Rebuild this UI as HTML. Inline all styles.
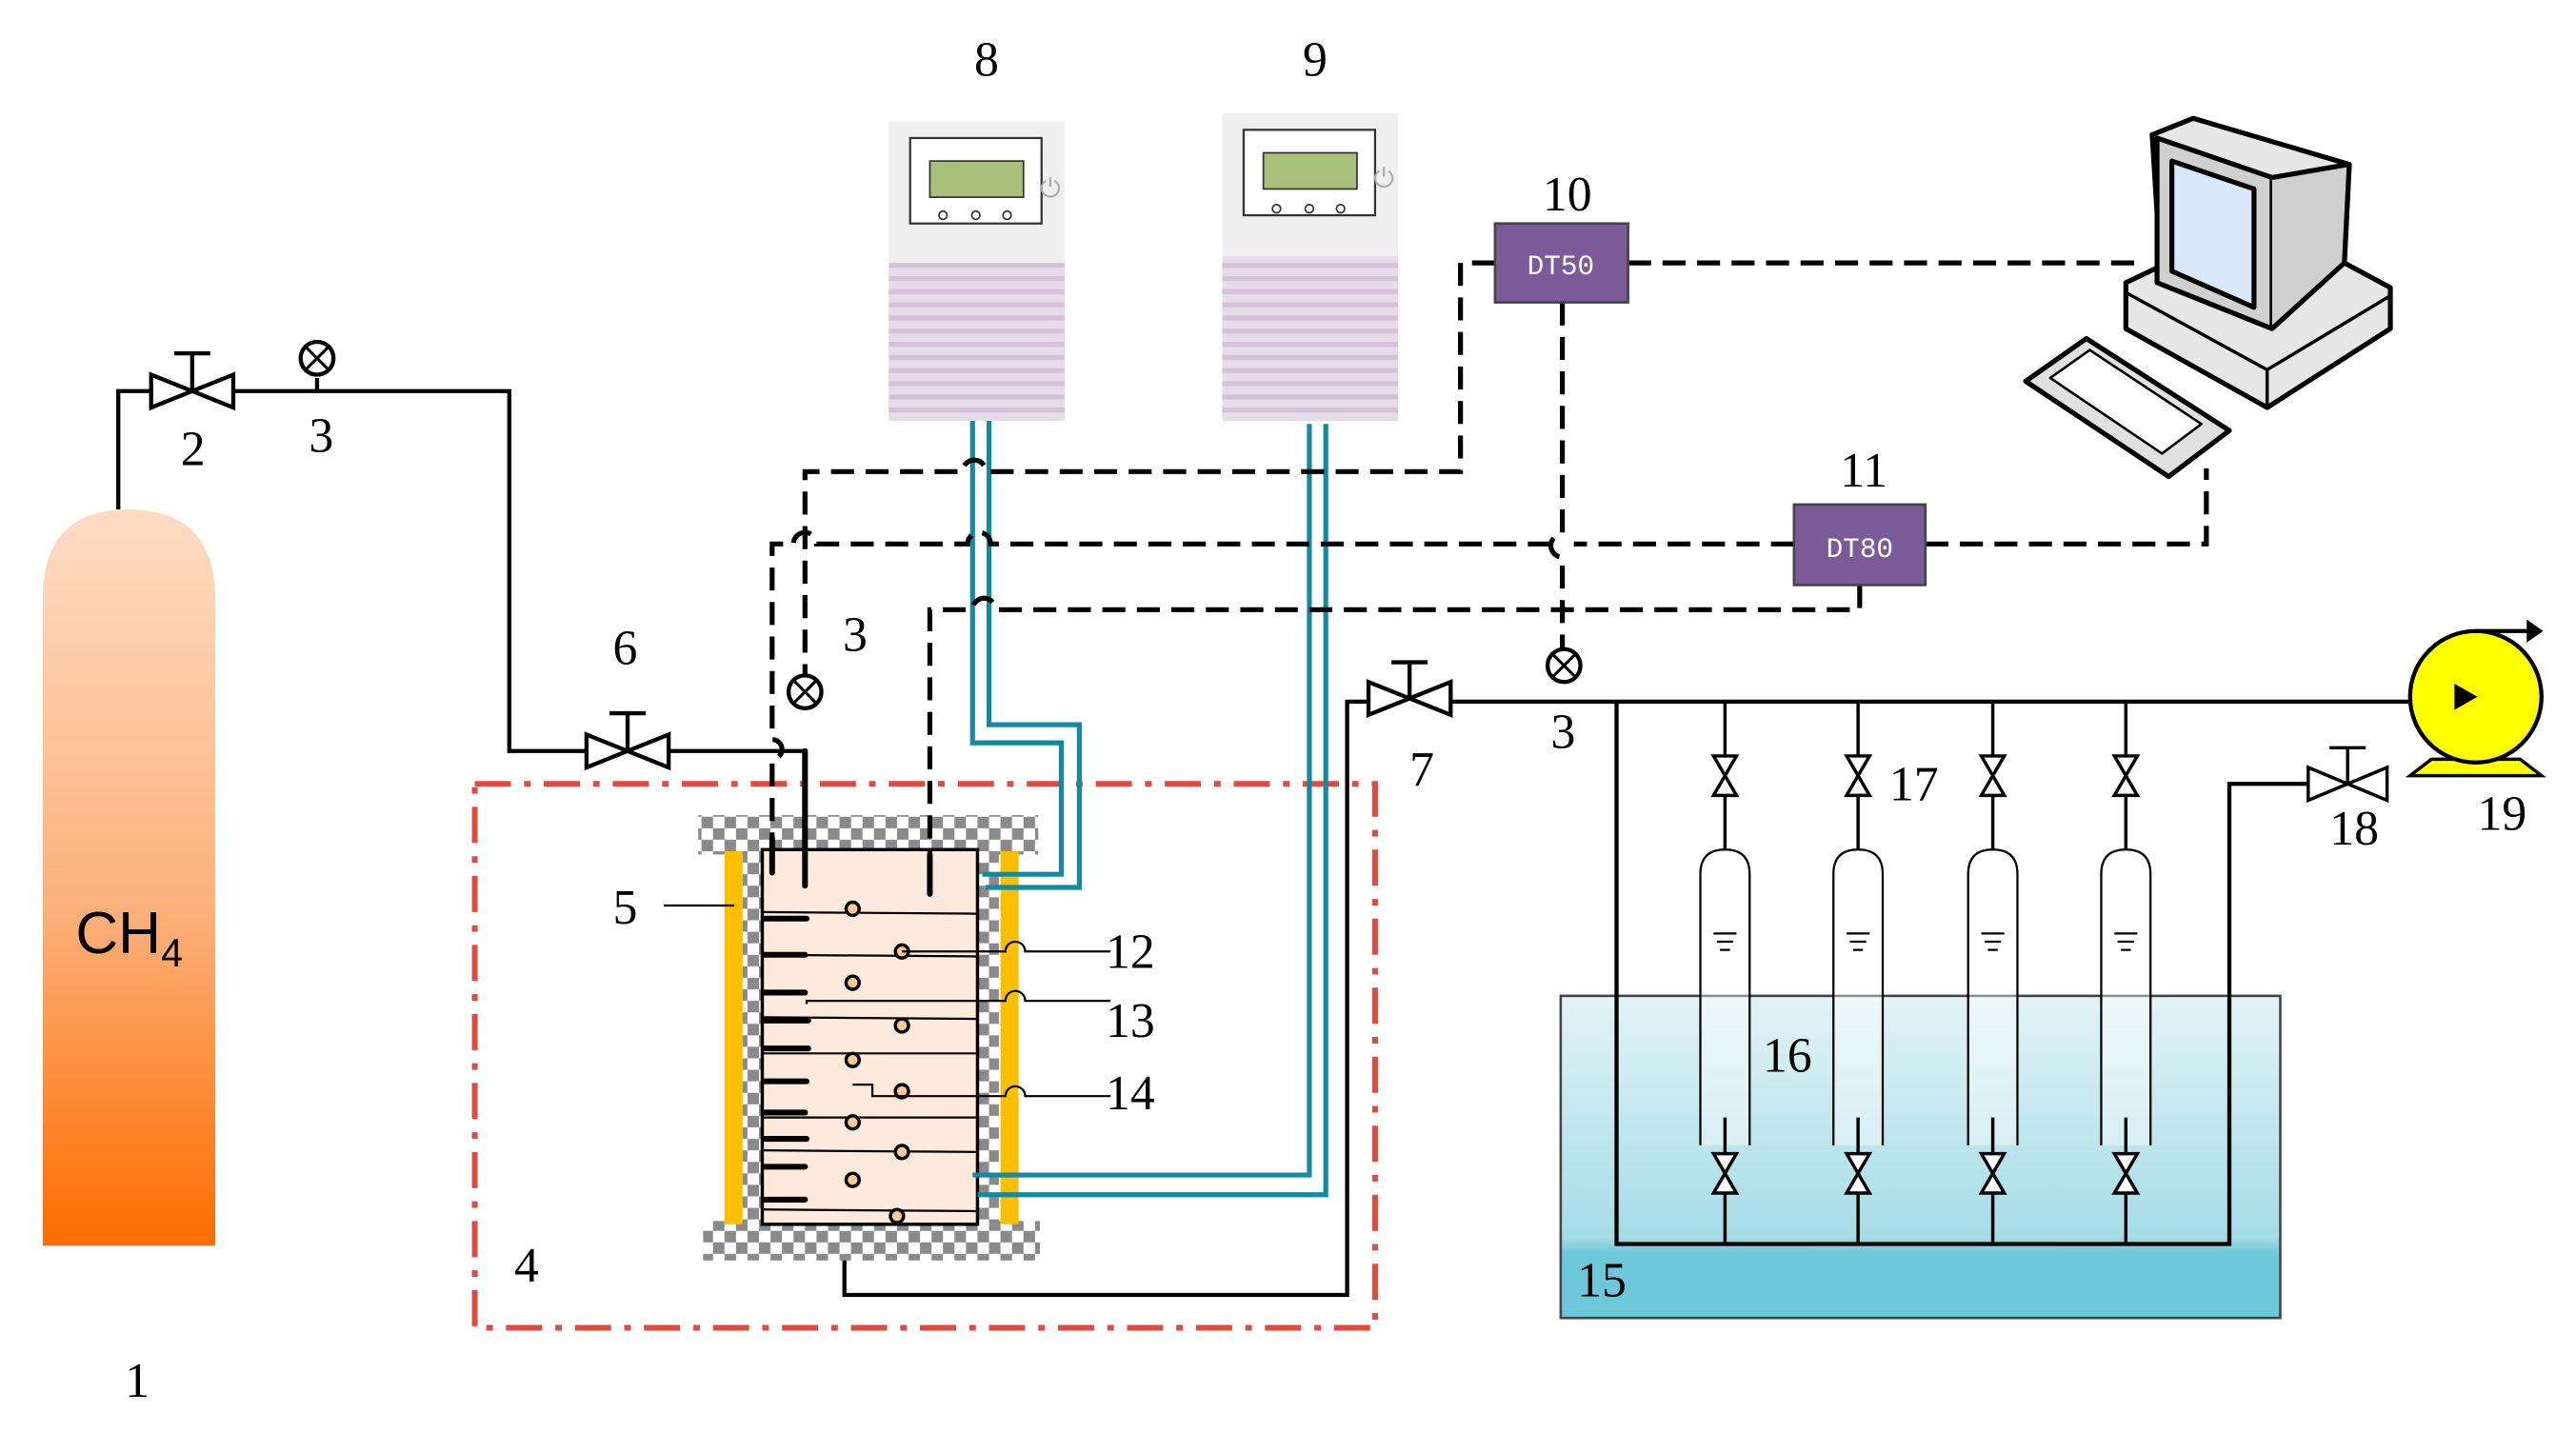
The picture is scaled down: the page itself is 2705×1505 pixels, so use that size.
<!DOCTYPE html>
<html><head><meta charset="utf-8"><style>
html,body{margin:0;padding:0;background:#fff;}
svg{display:block;}
text{font-family:"Liberation Serif",serif;fill:#000;}
</style></head><body>
<svg width="2705" height="1505" viewBox="0 0 1568 872" preserveAspectRatio="none" xmlns="http://www.w3.org/2000/svg">
<defs>
<linearGradient id="cyl" x1="0" y1="0" x2="0" y2="1"><stop offset="0" stop-color="#fddcc4"/><stop offset="0.55" stop-color="#fbb07a"/><stop offset="1" stop-color="#ff6c00"/></linearGradient>
<linearGradient id="water" x1="0" y1="0" x2="0" y2="1"><stop offset="0" stop-color="#e2f3f6"/><stop offset="0.75" stop-color="#a6dce6"/><stop offset="0.8" stop-color="#6cc8d8"/><stop offset="1" stop-color="#6cc8d8"/></linearGradient>
<pattern id="chk" width="14" height="14" patternUnits="userSpaceOnUse"><rect width="14" height="14" fill="#fff"/><rect width="7" height="7" fill="#8a8a8a"/><rect x="7" y="7" width="7" height="7" fill="#8a8a8a"/></pattern>
<pattern id="stripe" width="10" height="8" patternUnits="userSpaceOnUse"><rect width="10" height="8" fill="#e6dbe8"/><rect width="10" height="3" fill="#d3c2d8"/></pattern>
</defs>
<g stroke="#000" stroke-width="2.5" fill="none">
<path d="M26 758 V365 Q26 310 78 310 Q131 310 131 365 V758 Z" fill="url(#cyl)" stroke="none"/>
<path d="M72 310 V238 H310 V457 H490 V540"/>
<path d="M92 228 L142 248 V228 L92 248 Z" fill="#fff"/><path d="M117 238 V215 M106 215 H128"/>
<path d="M193 230 V238"/><circle cx="193" cy="218" r="10" fill="#fff"/><path d="M186 211 L200 225 M200 211 L186 225" stroke-width="1.8"/>
<path d="M357 447 L407 467 V447 L357 467 Z" fill="#fff"/><path d="M382 457 V434 M371 434 H393"/>
<circle cx="490" cy="421" r="10" fill="#fff"/><path d="M483 414 L497 428 M497 414 L483 428" stroke-width="1.8"/>
<path d="M514 745 V788 H820 V427 H833"/>
<path d="M833 415 L883 435 V415 L833 435 Z" fill="#fff"/><path d="M858 425 V403 M847 403 H869"/>
<path d="M883 427 H1500"/>
<circle cx="952" cy="405" r="10" fill="#fff"/><path d="M945 398 L959 412 M959 398 L945 412" stroke-width="1.8"/>
</g>
<rect x="289" y="477" width="548" height="331" fill="none" stroke="#e04a3f" stroke-width="3.5" stroke-dasharray="22,8,4,8"/>
<rect x="425" y="496" width="207" height="24" fill="url(#chk)"/>
<rect x="428" y="743" width="205" height="24" fill="url(#chk)"/>
<rect x="452" y="518" width="13" height="227" fill="url(#chk)"/>
<rect x="595" y="518" width="13" height="227" fill="url(#chk)"/>
<rect x="441" y="518" width="11" height="227" fill="#fcbf00"/>
<rect x="609" y="518" width="11" height="227" fill="#fcbf00"/>
<rect x="464" y="517" width="131" height="228" fill="#fdeadc" stroke="#000" stroke-width="2"/>
<g stroke="#000" stroke-width="1.3">
<line x1="464" y1="555" x2="595" y2="556"/><line x1="464" y1="581" x2="595" y2="582"/><line x1="464" y1="619" x2="595" y2="620"/>
<line x1="464" y1="641" x2="595" y2="641"/><line x1="464" y1="680" x2="595" y2="680"/><line x1="464" y1="700" x2="595" y2="701"/>
<line x1="464" y1="736" x2="595" y2="737"/>
</g>
<g stroke="#000" stroke-width="3.5" stroke-linecap="round">
<line x1="465" y1="559" x2="491" y2="559"/><line x1="465" y1="581" x2="490" y2="581"/><line x1="465" y1="604" x2="490" y2="604"/>
<line x1="465" y1="621" x2="492" y2="621"/><line x1="465" y1="638" x2="492" y2="638"/><line x1="465" y1="658" x2="491" y2="658"/>
<line x1="465" y1="677" x2="490" y2="677"/><line x1="465" y1="693" x2="491" y2="693"/><line x1="465" y1="710" x2="490" y2="710"/><line x1="465" y1="730" x2="490" y2="730"/>
<line x1="490" y1="457" x2="490" y2="539"/><line x1="566" y1="520" x2="566" y2="544"/><line x1="470" y1="510" x2="470" y2="531"/>
</g>
<g fill="#fbc89a" stroke="#000" stroke-width="2">
<circle cx="519" cy="553" r="4"/><circle cx="549" cy="579" r="4"/><circle cx="519" cy="598" r="4"/><circle cx="549" cy="624" r="4"/>
<circle cx="519" cy="645" r="4"/><circle cx="549" cy="664" r="4"/><circle cx="519" cy="683" r="4"/><circle cx="549" cy="701" r="4"/><circle cx="519" cy="718" r="4"/><circle cx="546" cy="740" r="4"/>
</g>
<g stroke="#000" stroke-width="1.3" fill="none">
<path d="M549 579 H612 a6 6 0 0 1 12 0 H676"/>
<path d="M491 611 V609 H612 a6 6 0 0 1 12 0 H676"/>
<path d="M519 660 H531 V667 H612 a6 6 0 0 1 12 0 H676"/>
<path d="M404 551 H447"/>
</g>
<g stroke="#148aa0" stroke-width="3" fill="none">
<path d="M592 256 V452 H646 V532 H598"/>
<path d="M602 256 V441 H657 V540 H600"/>
<path d="M797 258 V715 H592"/>
<path d="M807 258 V727 H595"/>
</g>
<g>
<rect x="541" y="74" width="107" height="182" fill="#efefef"/>
<rect x="541" y="160" width="107" height="96" fill="url(#stripe)"/>
<rect x="554" y="84" width="80" height="52" fill="#fff" stroke="#333" stroke-width="1.3"/>
<rect x="566" y="98" width="57" height="22" fill="#a8c07a" stroke="#333"/>
<circle cx="574" cy="131" r="2.5" fill="none" stroke="#333"/><circle cx="594" cy="131" r="2.5" fill="none" stroke="#333"/><circle cx="613" cy="131" r="2.5" fill="none" stroke="#333"/>
<rect x="744" y="69" width="107" height="187" fill="#efefef"/>
<rect x="744" y="156" width="107" height="100" fill="url(#stripe)"/>
<rect x="757" y="79" width="80" height="52" fill="#fff" stroke="#333" stroke-width="1.3"/>
<rect x="769" y="93" width="57" height="22" fill="#a8c07a" stroke="#333"/>
<circle cx="777" cy="127" r="2.5" fill="none" stroke="#333"/><circle cx="797" cy="127" r="2.5" fill="none" stroke="#333"/><circle cx="816" cy="127" r="2.5" fill="none" stroke="#333"/>
<text x="633" y="120" font-size="16" style="fill:#aaa">⏻</text>
<text x="836" y="114" font-size="16" style="fill:#aaa">⏻</text>
</g>
<g stroke="#000" stroke-width="3" fill="none" stroke-dasharray="14,7">
<path d="M910 160 H889 V287 H600 a7 7 0 0 0 -14 0 H490 V410"/>
<path d="M991 160 H1300"/>
<path d="M951 184 V325 a7 7 0 0 0 0 14 V395"/>
<path d="M1092 331 H958 M944 331 H603 a7 7 0 0 0 -14 0 H497 a7 7 0 0 0 -14 0 H470 V450 a6 6 0 0 1 0 12 V512"/>
<path d="M1172 331 H1343 V285"/>
<path d="M1132 356 V371 H606 a7 7 0 0 0 -14 0 H566 V520"/>
</g>
<rect x="910" y="136" width="81" height="48" fill="#7b5a9a" stroke="#444" stroke-width="1.5"/>
<text x="950" y="167" font-size="17" text-anchor="middle" style="fill:#fff;font-family:'Liberation Mono',monospace">DT50</text>
<rect x="1092" y="307" width="80" height="49" fill="#7b5a9a" stroke="#444" stroke-width="1.5"/>
<text x="1132" y="339" font-size="17" text-anchor="middle" style="fill:#fff;font-family:'Liberation Mono',monospace">DT80</text>
<g stroke="#000" stroke-width="3" stroke-linejoin="round">
<path d="M1310 82 L1335 72 L1430 100 L1427 160 L1455 175 L1455 200 L1380 248 L1294 200 L1294 172 L1315 162 Z" fill="#e6e6e6"/>
<path d="M1313 84 L1383 108 L1383 200 L1313 172 Z" fill="#d0d0d0"/>
<path d="M1322 98 L1372 115 L1372 187 L1322 165 Z" fill="#d8e8f8"/>
<path d="M1383 108 L1430 100 L1427 160 L1383 200" fill="#cfcfcf"/>
<path d="M1294 178 L1380 225 L1455 180" fill="none" stroke-width="2"/>
<path d="M1380 225 V248" fill="none" stroke-width="2"/>
<path d="M1233 232 L1270 206 L1357 262 L1320 290 Z" fill="#e0e0e0"/>
<path d="M1248 230 L1272 213 L1340 258 L1316 276 Z" fill="#fff" stroke-width="1.5"/>
</g>
<rect x="950" y="606" width="438" height="196" fill="url(#water)" stroke="#444" stroke-width="1.5"/>
<g stroke="#000" stroke-width="2.5" fill="none">
<path d="M984 427 V757 H1357 V477 H1405"/>
</g>
<g stroke="#000" stroke-width="2" fill="#fff">
<path d="M1405 467 L1453 487 V467 L1405 487 Z"/><path d="M1429 477 V455 M1418 455 H1440" fill="none"/>
</g>
<g stroke="#000" stroke-width="2">
<g id="v"><path d="M1050 427 V517" fill="none"/>
<path d="M1043 460 L1057 484 H1043 L1057 460 Z" fill="#fff"/>
<path d="M1035 697 V532 Q1035 517 1050 517 Q1065 517 1065 532 V697" fill="#fff" fill-opacity="0.4" stroke-width="1.3"/>
<path d="M1043 568 H1057 M1045 573 H1055 M1047 578 H1053" stroke-width="1.3"/>
<path d="M1050 680 V757" fill="none"/><path d="M1043 702 L1057 726 H1043 L1057 702 Z" fill="#fff"/></g>
<use href="#v" x="81"/><use href="#v" x="163"/><use href="#v" x="244"/>
</g>
<path d="M1480 462 L1467 472 H1547 L1534 462 Z" fill="#ffff00" stroke="#000" stroke-width="2"/>
<circle cx="1507" cy="424" r="40" fill="#ffff00" stroke="#000" stroke-width="2.5"/>
<path d="M1507 384 H1540" stroke="#000" stroke-width="2.5"/>
<path d="M1538 377 L1548 384 L1538 391 Z" fill="#000"/>
<path d="M1494 416 L1508 424 L1494 432 Z" fill="#000"/>
<g font-size="30">
<text x="46" y="580" style="font-family:'Liberation Sans',sans-serif" font-size="36">CH<tspan font-size="24" dy="8">4</tspan></text>
<text x="76" y="850">1</text><text x="110" y="283">2</text><text x="188" y="275">3</text>
<text x="373" y="404">6</text><text x="513" y="396">3</text><text x="313" y="780">4</text><text x="373" y="562">5</text>
<text x="593" y="46">8</text><text x="793" y="46">9</text><text x="939" y="128">10</text><text x="1120" y="296">11</text>
<text x="673" y="589">12</text><text x="673" y="631">13</text><text x="673" y="675">14</text>
<text x="858" y="478">7</text><text x="944" y="455">3</text><text x="1150" y="487">17</text>
<text x="1073" y="652">16</text><text x="960" y="789">15</text><text x="1418" y="514">18</text><text x="1508" y="505">19</text>
</g>
</svg>
</body></html>
